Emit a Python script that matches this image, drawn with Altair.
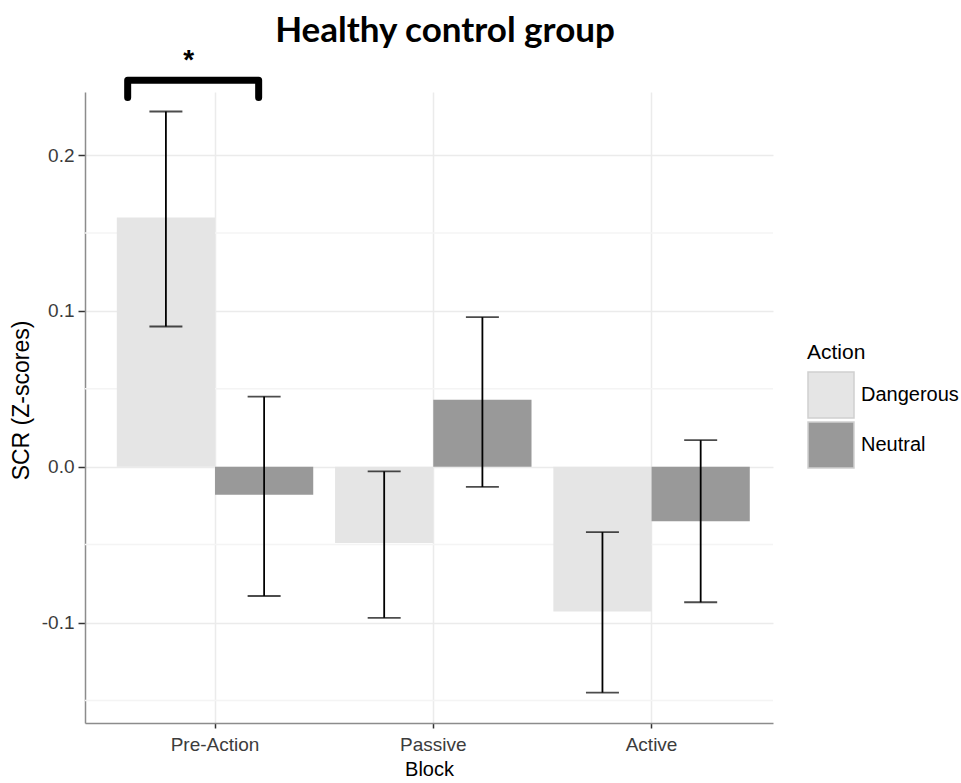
import altair as alt
import pandas as pd

# SCR means and error-bar limits per block and action type
blocks = ["Pre-Action", "Pre-Action", "Passive", "Passive", "Active", "Active"]
actions = ["Dangerous", "Neutral", "Dangerous", "Neutral", "Dangerous", "Neutral"]
means = [0.160, -0.018, -0.049, 0.043, -0.093, -0.035]
lower = [0.090, -0.083, -0.097, -0.013, -0.145, -0.087]
upper = [0.228, 0.045, -0.003, 0.096, -0.042, 0.017]

block_order = ["Pre-Action", "Passive", "Active"]
action_order = ["Dangerous", "Neutral"]
action_colors = ["#e5e5e5", "#999999"]

major_ticks = [-0.1, 0.0, 0.1, 0.2]
minor_ticks = [-0.15, -0.05, 0.05, 0.15]

# significance bracket over the Pre-Action pair, in block units (Pre-Action = 1)
bracket_x = [0.6, 0.6, 1.2, 1.2]
bracket_y = [0.237, 0.248, 0.248, 0.237]
star_x = [0.88]
star_y = [0.255]
star_text = ["*"]

Y_DOMAIN = [-0.1645, 0.2405]
UNIT_DOMAIN = [0.4045, 3.556]

bars_df = pd.DataFrame({"Block": blocks, "Action": actions, "mean": means,
                        "lo": lower, "hi": upper})
minor_df = pd.DataFrame({"g": minor_ticks})
bracket_df = pd.DataFrame({"u": bracket_x, "v": bracket_y, "i": list(range(len(bracket_x)))})
star_df = pd.DataFrame({"u": star_x, "v": star_y, "t": star_text})

yscale = alt.Scale(domain=Y_DOMAIN, nice=False, zero=False)
xscale = alt.Scale(domain=block_order, paddingInner=0.1, paddingOuter=0.126, align=0.578)
offscale = alt.Scale(domain=action_order, paddingInner=0, paddingOuter=0)
uscale = alt.Scale(domain=UNIT_DOMAIN, nice=False, zero=False)

label_expr = ("datum.value < -0.001 ? '-' + format(abs(datum.value), '.1f') "
              ": format(abs(datum.value), '.1f')")

x_axis = alt.Axis(title="Block", labelAngle=0, grid=True, bandPosition=0.5,
                  gridColor="#ebebeb", gridWidth=1.5,
                  domainColor="#8c8c8c", domainWidth=1.5,
                  tickColor="#333333", tickSize=5, tickWidth=1.5,
                  labelFont="Liberation Sans", labelFontSize=19, labelColor="#3c3c3c",
                  labelPadding=7, titleFont="Liberation Sans", titleFontSize=20,
                  titleFontWeight="normal", titleColor="#000000", titlePadding=5)

y_axis = alt.Axis(title="SCR (Z-scores)", values=major_ticks, labelExpr=label_expr,
                  grid=True, gridColor="#ebebeb", gridWidth=1.5,
                  domainColor="#8c8c8c", domainWidth=1.5,
                  tickColor="#333333", tickSize=7, tickWidth=1.5,
                  labelFont="Liberation Sans", labelFontSize=19, labelColor="#3c3c3c",
                  labelPadding=4, titleFont="Liberation Sans", titleFontSize=23,
                  titleFontWeight="normal", titleColor="#000000", titlePadding=8,
                  titleY=308)


def yenc(field):
    return alt.Y(field, scale=yscale, axis=y_axis)


minor_grid = alt.Chart(minor_df).mark_rule(color="#f4f4f4", strokeWidth=1.5).encode(
    y=yenc("g:Q")
)

bars = alt.Chart(bars_df).mark_bar().encode(
    x=alt.X("Block:N", scale=xscale, sort=block_order, axis=x_axis),
    xOffset=alt.XOffset("Action:N", scale=offscale, sort=action_order),
    y=yenc("mean:Q"),
    y2=alt.datum(0),
    color=alt.Color("Action:N", sort=action_order,
                    scale=alt.Scale(domain=action_order, range=action_colors),
                    legend=alt.Legend(title="Action")),
)

err_base = alt.Chart(bars_df).encode(
    x=alt.X("Block:N", scale=xscale, sort=block_order, axis=None),
    xOffset=alt.XOffset("Action:N", scale=offscale, sort=action_order),
)
err_rule = err_base.mark_rule(color="black", strokeWidth=1.8).encode(
    y=yenc("lo:Q"), y2="hi:Q"
)
err_cap_lo = err_base.mark_tick(color="black", size=33, thickness=1.8).encode(
    y=yenc("lo:Q")
)
err_cap_hi = err_base.mark_tick(color="black", size=33, thickness=1.8).encode(
    y=yenc("hi:Q")
)

bracket = alt.Chart(bracket_df).mark_line(
    color="black", strokeWidth=7, strokeCap="round", strokeJoin="round", clip=False
).encode(
    x=alt.X("u:Q", scale=uscale, axis=None),
    y=yenc("v:Q"),
    order="i:O",
)

star = alt.Chart(star_df).mark_text(
    font="Liberation Sans", fontSize=28, fontWeight="bold", color="#000000",
    baseline="alphabetic", align="center", clip=False
).encode(
    x=alt.X("u:Q", scale=uscale, axis=None),
    y=yenc("v:Q"),
    text="t:N",
)

chart = alt.layer(
    minor_grid, bars, err_rule, err_cap_lo, err_cap_hi, bracket, star
).resolve_scale(x="independent").properties(
    width=688,
    height=631,
    title=alt.TitleParams(text="Healthy control group", font="Lato", fontSize=35,
                          fontWeight="bold", color="#000000", anchor="middle",
                          frame="group", dx=16, offset=15, dy=17),
    autosize=alt.AutoSizeParams(type="none"),
    padding={"left": 85, "top": 92, "right": 188, "bottom": 60},
    background="white",
).configure_view(stroke=None).configure_legend(
    orient="none", legendX=722, legendY=250,
    titleFont="Liberation Sans", titleFontSize=21, titleFontWeight="normal",
    titleColor="#000000", titlePadding=8,
    labelFont="Liberation Sans", labelFontSize=20, labelColor="#000000", labelOffset=6,
    symbolType="square", symbolSize=2116, symbolStrokeColor="#d0d0d0",
    symbolStrokeWidth=1.5, rowPadding=-9,
)

chart.save("out.html", embed_options={"renderer": "svg", "actions": False})
